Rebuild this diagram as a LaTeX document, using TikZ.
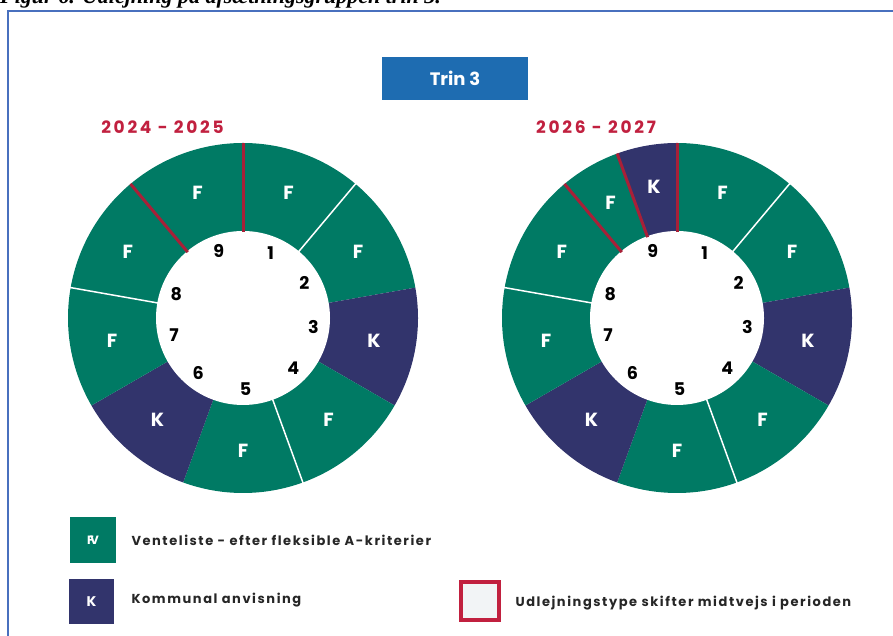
\documentclass[tikz,border=0pt]{standalone}
\usepackage{fontspec}
\setmainfont{Poppins}
\newfontfamily\capfont{Liberation Serif}
\newfontfamily\widefont[LetterSpace=12]{Poppins}
\newfontfamily\yearfont[LetterSpace=16]{Poppins}
\usetikzlibrary{calc}

\definecolor{fgreen}{RGB}{0,122,100}
\definecolor{knavy}{RGB}{50,52,108}
\definecolor{shiftred}{RGB}{168,32,56}
\definecolor{yearred}{RGB}{193,32,63}
\definecolor{trinblue}{RGB}{30,108,177}
\definecolor{frameblue}{RGB}{72,112,190}
\definecolor{boxgrey}{RGB}{242,244,246}

\begin{document}
\begin{tikzpicture}[x=1pt,y=1pt]

\tikzstyle{seglabel} = [text=white, font=\bfseries\fontsize{19}{19}\selectfont]
\tikzstyle{num} = [text=black, font=\bfseries\fontsize{17.5}{17.5}\selectfont]
\tikzstyle{year} = [text=yearred, font=\yearfont\bfseries\fontsize{17}{17}\selectfont]
\tikzstyle{legtext} = [anchor=west, text=black!85, font=\widefont\bfseries\fontsize{13}{13}\selectfont]
\tikzstyle{whiteline} = [draw=white, line width=1.5pt]
\tikzstyle{redline} = [draw=shiftred, line width=3pt]

\useasboundingbox (0,0) rectangle (893,636);
\clip (0,0) rectangle (893,636);

\node[anchor=base west, inner sep=0pt, font=\capfont\bfseries\itshape\fontsize{22}{22}\selectfont] (caption) at (0,632) {Figur 6. Udlejning på afsætningsgruppen trin 3.};
\draw[frameblue, line width=1.5pt] (8,-20) rectangle (920,625);

\node[fill=trinblue, text=white, minimum width=146pt, minimum height=43pt, font=\bfseries\fontsize{18}{18}\selectfont] (trin) at (455,557.5) {Trin 3};

\node[year] (year1) at (162.5,509) {2024 - 2025};
\node[year] (year2) at (596,509) {2026 - 2027};

\coordinate (left) at (243,318);
\coordinate (right) at (677,318);

\foreach \a/\b/\c in {90/50/fgreen, 50/10/fgreen, 10/-30/knavy, -30/-70/fgreen, -70/-110/fgreen, -110/-150/knavy, -150/-190/fgreen, 170/130/fgreen, 130/90/fgreen}
  \fill[\c] (left) -- ++(\a:175) arc[start angle=\a, end angle=\b, radius=175] -- cycle;
\fill[white] (left) circle (87);
\draw[whiteline] (left) ++(50:86) -- ++(50:90);
\draw[whiteline] (left) ++(-70:86) -- ++(-70:90);
\draw[whiteline] (left) ++(170:86) -- ++(170:90);
\draw[redline] (left) ++(90:86) -- ++(90:89);
\draw[redline] (left) ++(130:86) -- ++(130:89);

\foreach \t/\ang [count=\i] in {F/70, F/30, K/-10, F/-50, F/-90, K/-130, F/-170, F/150, F/110}
  \node[seglabel] (lseg\i) at ($(left)+(\ang:133)$) {\t};
\foreach \n/\ang in {1/67, 2/30, 3/-7, 4/-45, 5/-88, 6/-129, 7/-166, 8/160, 9/110}
  \node[num] (lnum\n) at ($(left)+(\ang:71)$) {\n};

\foreach \a/\b/\c in {90/50/fgreen, 50/10/fgreen, 10/-30/knavy, -30/-70/fgreen, -70/-110/fgreen, -110/-150/knavy, -150/-190/fgreen, 170/130/fgreen, 130/110/fgreen, 110/90/knavy}
  \fill[\c] (right) -- ++(\a:175) arc[start angle=\a, end angle=\b, radius=175] -- cycle;
\fill[white] (right) circle (87);
\draw[whiteline] (right) ++(50:86) -- ++(50:90);
\draw[whiteline] (right) ++(-70:86) -- ++(-70:90);
\draw[whiteline] (right) ++(170:86) -- ++(170:90);
\draw[redline] (right) ++(90:86) -- ++(90:89);
\draw[redline] (right) ++(110:86) -- ++(110:89);
\draw[redline] (right) ++(130:86) -- ++(130:89);

\foreach \t/\ang [count=\i] in {F/70, F/30, K/-10, F/-50, F/-90, K/-130, F/-170, F/150, F/120, K/100}
  \node[seglabel] (rseg\i) at ($(right)+(\ang:133)$) {\t};
\foreach \n/\ang in {1/67, 2/30, 3/-7, 4/-45, 5/-88, 6/-129, 7/-166, 8/160, 9/110}
  \node[num] (rnum\n) at ($(right)+(\ang:71)$) {\n};

\node[fill=fgreen, minimum size=46pt, inner sep=0pt, text=white, font=\bfseries\fontsize{12}{12}\selectfont] (keyf) at (93,96) {F\kern-3.5pt V};
\node[legtext] (textf) at (128,96) {Venteliste - efter fleksible A-kriterier};
\node[fill=knavy, minimum size=45pt, inner sep=0pt, text=white, font=\bfseries\fontsize{14}{14}\selectfont] (keyk) at (91.5,34) {K};
\node[legtext] (textk) at (128,36) {Kommunal anvisning};
\node[fill=boxgrey, draw=yearred, line width=4pt, minimum size=38pt, inner sep=0pt] (keyshift) at (479.5,35) {};
\node[legtext] (textshift) at (512,33) {Udlejningstype skifter midtvejs i perioden};

\end{tikzpicture}
\end{document}
